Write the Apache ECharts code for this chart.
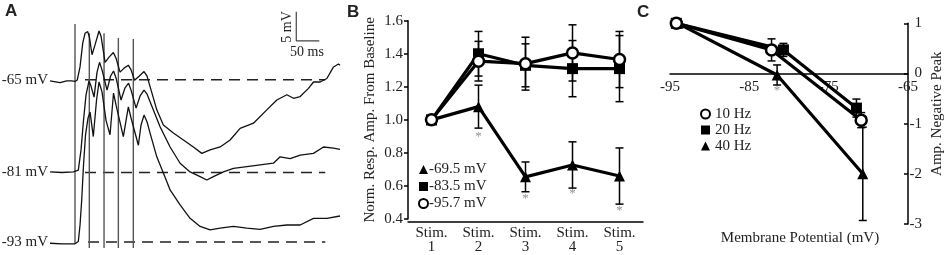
<!DOCTYPE html>
<html>
<head>
<meta charset="utf-8">
<script src="https://cdn.jsdelivr.net/npm/echarts@6/dist/echarts.min.js"></script>
<style>
  html, body { margin: 0; padding: 0; background: #fff; }
  #chart { width: 945px; height: 255px; }
</style>
</head>
<body>
<div id="chart"></div>
<script>
// ---- panel A: voltage traces, [time ms, membrane potential mV] ----
const traceM65 = [
  [0, -65.2], [21.7, -65.5], [36.3, -65.2], [47.2, -65.2], [54.3, -65.3], [59.3, -65.05],
  [65.2, -62.8], [71.1, -58.7], [76.1, -57.0], [82.0, -56.7], [85.9, -57.8], [91.3, -60.7],
  [97.8, -59.0], [106.5, -56.6], [110.9, -57.5], [119.6, -62.0], [128.3, -61.1], [137.6, -60.3],
  [143.5, -61.3], [152.2, -63.7], [160.9, -63.0], [170.2, -62.5], [176.1, -63.3], [183.7, -65.1],
  [193.5, -64.4], [204.3, -63.6], [210.9, -64.4], [217.4, -66.2], [232, -70.2], [246.3, -72.8],
  [268, -74.2], [289.8, -75.4], [311.5, -76.6], [329.8, -77.7], [347.8, -77.1], [369.6, -76.6],
  [391.3, -75.4], [413, -73.4], [442, -72.5], [471, -70.2], [492.8, -68.5], [514.6, -67.6],
  [528.9, -68.2], [543.5, -67.9], [561.5, -66.5], [572.4, -65.4], [587, -65.4], [601.5, -64.8],
  [615.9, -62.8], [626.7, -62.3], [630, -62.5]
];
const traceM81 = [
  [0, -80.9], [26.1, -81.0], [50.7, -80.9], [61.5, -80.6], [67.4, -77.1], [72.8, -72.0],
  [78.3, -67.6], [84.8, -65.2], [89.1, -66.1], [95.7, -68.0], [102.2, -63.7], [107.6, -62.0],
  [113, -63.3], [123.9, -66.8], [131.5, -64.4], [138, -63.5], [143.5, -64.7], [154.3, -68.5],
  [163, -66.4], [170.7, -65.6], [176.1, -66.8], [187, -69.9], [195.7, -67.8], [204.3, -66.8],
  [210.9, -67.5], [217.4, -68.8], [239.1, -73.1], [260.9, -76.6], [282.6, -79.4], [304.3, -80.9],
  [326.1, -81.7], [340.7, -82.3], [355, -81.7], [376.7, -80.9], [398.5, -80.3], [427.6, -80.0],
  [456.5, -79.7], [485.4, -79.4], [500, -78.3], [521.7, -78.6], [543.5, -78.0], [572.4, -77.7],
  [594.1, -76.6], [615.9, -76.8], [630, -77.0]
];
const traceM93 = [
  [0, -93.2], [26.1, -93.3], [54.3, -93.3], [61.5, -92.9], [65.2, -90.1], [68.9, -85.7],
  [72.8, -79.7], [77.2, -74.5], [82.6, -71.6], [87, -70.6], [94.1, -74.8], [101.1, -68.5],
  [106.5, -65.4], [113, -67.1], [121.7, -72.0], [130.4, -74.5], [138, -67.3], [143.5, -69.4],
  [159.3, -74.8], [170.2, -69.7], [176.1, -71.6], [192, -76.3], [197.8, -72.8], [204.3, -71.1],
  [210.9, -72.3], [217.4, -74.2], [232, -78.3], [246.3, -81.1], [260.9, -84.0], [282.6, -86.6],
  [304.3, -88.9], [326.1, -90.3], [347.8, -90.9], [369.6, -90.6], [398.5, -90.3], [427.6, -90.6],
  [456.5, -90.8], [485.4, -90.3], [514.6, -90.05], [543.5, -90.05], [572.4, -88.9], [601.5, -88.9],
  [630, -88.5]
];
const baselines = [-65, -81, -93];
const baselineStart = [76, 76, 82.6];
const baselineEnd = 598;
const stimTimes = [54.3, 85.4, 117.4, 148.5, 181];
const stimTop = [-55.4, -57.0, -57.0, -57.8, -58.0];
const stimBottom = [-93.3, -94.0, -94.0, -94.0, -94.0];
const scaleBar = [[535, -53.3], [535, -58.3], [585, -58.3]];

// ---- panel B: normalized response amplitude per stimulus ----
const stimLabels = ['Stim.\n1', 'Stim.\n2', 'Stim.\n3', 'Stim.\n4', 'Stim.\n5'];
const ampM695 = [1.0, 1.08, 0.655, 0.727, 0.66];
const errM695 = [0, 0.13, 0.09, 0.14, 0.17];
const ampM835 = [1.0, 1.40, 1.33, 1.31, 1.31];
const errM835 = [0, 0.135, 0.13, 0.17, 0.2];
const ampM957 = [1.0, 1.355, 1.34, 1.405, 1.365];
const errM957 = [0, 0.12, 0.16, 0.17, 0.17];
const starsB = [[1, 0.90], [2, 0.524], [3, 0.554], [4, 0.453]];

// ---- panel C: amplitude of negative peak vs membrane potential ----
const hz10 = [[-94.2, 1.0], [-82.2, 0.47], [-70.9, -0.93]];
const hz10Err = [0, 0.22, 0.15];
const hz20 = [[-94.2, 1.0], [-80.7, 0.47], [-71.5, -0.69]];
const hz20Err = [0, 0.13, 0.18];
const hz40 = [[-94.0, 1.0], [-81.5, -0.03], [-70.7, -2.0]];
const hz40Err = [0, 0.2, 0.93];
const starsC = [[-81.5, -0.35]];

const serif = 'Liberation Serif';
const txt = { fontFamily: serif, fontSize: 15, color: '#222' };
const blackAxis = { color: '#000', width: 1.5 };

const chart = echarts.init(document.getElementById('chart'));

// error bar drawn through the axis scales
function errorBar(params, api) {
  const x = api.value(0);
  const lo = api.value(2);
  const hi = api.value(3);
  if (hi - lo <= 0) return;
  const top = api.coord([x, hi]);
  const bot = api.coord([x, lo]);
  const w = 4;
  const st = { stroke: '#000', lineWidth: 1.5 };
  return {
    type: 'group',
    children: [
      { type: 'line', shape: { x1: top[0], y1: top[1], x2: bot[0], y2: bot[1] }, style: st },
      { type: 'line', shape: { x1: top[0] - w, y1: top[1], x2: top[0] + w, y2: top[1] }, style: st },
      { type: 'line', shape: { x1: bot[0] - w, y1: bot[1], x2: bot[0] + w, y2: bot[1] }, style: st }
    ]
  };
}

const errB = (vals, errs) => ({
  type: 'custom', xAxisIndex: 1, yAxisIndex: 1, z: 1, silent: true,
  renderItem: errorBar,
  encode: { x: 0, y: 1 },
  data: vals.map((v, i) => [i, v, v - errs[i], v + errs[i]])
});
const errC = (pts, errs) => ({
  type: 'custom', xAxisIndex: 2, yAxisIndex: 2, z: 1, silent: true,
  renderItem: errorBar,
  encode: { x: 0, y: 1 },
  data: pts.map((p, i) => [p[0], p[1], p[1] - errs[i], p[1] + errs[i]])
});
const lineSeries = (name, data, ax, symbol, open) => ({
  name, type: 'line', xAxisIndex: ax, yAxisIndex: ax, z: 3,
  data, symbol, symbolSize: 11,
  lineStyle: { color: '#000', width: 3.2 },
  itemStyle: open
    ? { color: '#fff', borderColor: '#000', borderWidth: 2.5 }
    : { color: '#000', borderColor: '#000', borderWidth: 0 },
  emphasis: { disabled: true }
});
const stars = (data, ax) => ({
  type: 'scatter', xAxisIndex: ax, yAxisIndex: ax, z: 4, silent: true,
  data, symbolSize: 1, itemStyle: { color: 'transparent' },
  label: { show: true, formatter: '*', position: 'inside', color: '#777', fontSize: 13, fontFamily: serif }
});

const series = [];
baselines.forEach((b, i) => {
  series.push({
    type: 'line', xAxisIndex: 0, yAxisIndex: 0, symbol: 'none', silent: true,
    data: [[baselineStart[i], b], [baselineEnd, b]],
    lineStyle: { color: '#222', width: 1.5, type: [11, 7] }
  });
});
stimTimes.forEach((t, i) => {
  series.push({
    type: 'line', xAxisIndex: 0, yAxisIndex: 0, symbol: 'none', silent: true,
    data: [[t, stimTop[i]], [t, stimBottom[i]]],
    lineStyle: { color: '#555', width: 1.4 }
  });
});
[traceM65, traceM81, traceM93].forEach(tr => {
  series.push({
    type: 'line', xAxisIndex: 0, yAxisIndex: 0, symbol: 'none', silent: true, z: 3,
    data: tr, lineStyle: { color: '#111', width: 1.3 }
  });
});
series.push({
  type: 'line', xAxisIndex: 0, yAxisIndex: 0, symbol: 'none', silent: true,
  data: scaleBar, lineStyle: { color: '#444', width: 1.2 }
});

series.push(errB(ampM695, errM695), errB(ampM835, errM835), errB(ampM957, errM957));
series.push(lineSeries('-69.5 mV', ampM695, 1, 'triangle', false));
series.push(lineSeries('-83.5 mV', ampM835, 1, 'rect', false));
series.push(lineSeries('-95.7 mV', ampM957, 1, 'circle', true));
series.push(stars(starsB, 1));

series.push(errC(hz40, hz40Err), errC(hz20, hz20Err), errC(hz10, hz10Err));
series.push(lineSeries('40 Hz', hz40, 2, 'triangle', false));
series.push(lineSeries('20 Hz', hz20, 2, 'rect', false));
series.push(lineSeries('10 Hz', hz10, 2, 'circle', true));
series.push(stars(starsC, 2));

const openIcon = { color: '#fff', borderColor: '#000', borderWidth: 2 };
const fillIcon = { color: '#000', borderWidth: 0 };

const option = {
  animation: false,
  backgroundColor: '#fff',
  grid: [
    { left: 50, top: 4.3, width: 290, height: 249.4, outerBoundsMode: 'none', containLabel: false },
    { left: 408, top: 20.7, width: 235, height: 198.3, outerBoundsMode: 'none', containLabel: false },
    { left: 670, top: 23.3, width: 238, height: 200.7, outerBoundsMode: 'none', containLabel: false }
  ],
  xAxis: [
    { gridIndex: 0, type: 'value', min: 0, max: 630, show: false },
    {
      gridIndex: 1, type: 'category', data: stimLabels, boundaryGap: true, offset: 3,
      axisLine: { lineStyle: blackAxis },
      axisTick: { alignWithLabel: true, length: 4, lineStyle: blackAxis },
      axisLabel: Object.assign({ margin: 4, lineHeight: 14, interval: 0 }, txt)
    },
    {
      // axis sits on the zero line of the right-hand y axis
      gridIndex: 2, type: 'value', min: -95, max: -65, interval: 10,
      position: 'bottom', offset: -150.5,
      axisLine: { onZero: false, lineStyle: blackAxis },
      axisTick: { show: false },
      splitLine: { show: false },
      axisLabel: Object.assign({ margin: 6 }, txt),
      name: 'Membrane Potential (mV)', nameLocation: 'middle', nameGap: 157,
      nameTextStyle: Object.assign({ padding: [0, 0, 0, 22] }, txt)
    }
  ],
  yAxis: [
    {
      gridIndex: 0, type: 'value', min: -95, max: -52,
      axisLine: { show: false }, axisTick: { show: false }, splitLine: { show: false },
      axisLabel: Object.assign({ customValues: baselines, formatter: v => v + ' mV', margin: 2 }, txt)
    },
    {
      gridIndex: 1, type: 'value', min: 0.4, max: 1.6, interval: 0.2,
      axisLine: { show: true, lineStyle: blackAxis },
      axisTick: { show: true, length: 4, lineStyle: blackAxis },
      splitLine: { show: false },
      axisLabel: Object.assign({ formatter: v => v.toFixed(1), margin: 5 }, txt),
      name: 'Norm. Resp. Amp. From Baseline', nameLocation: 'middle', nameGap: 30,
      nameTextStyle: txt
    },
    {
      gridIndex: 2, type: 'value', position: 'right', min: -3, max: 1, interval: 1,
      axisLine: { show: true, onZero: false, lineStyle: blackAxis },
      axisTick: { show: true, inside: true, length: 4, lineStyle: blackAxis },
      splitLine: { show: false },
      axisLabel: Object.assign({ align: 'right', margin: 14 }, txt),
      name: 'Amp. Negative Peak', nameLocation: 'middle', nameGap: 22,
      nameTextStyle: Object.assign({ padding: [0, 0, 0, 20] }, txt)
    }
  ],
  legend: [
    {
      orient: 'vertical', left: 413, top: 157, itemWidth: 9, itemHeight: 9, itemGap: 2,
      selectedMode: false,
      textStyle: Object.assign({ padding: [0, 0, 0, -4] }, txt),
      data: [
        { name: '-69.5 mV', icon: 'triangle', itemStyle: fillIcon },
        { name: '-83.5 mV', icon: 'rect', itemStyle: fillIcon },
        { name: '-95.7 mV', icon: 'circle', itemStyle: openIcon }
      ]
    },
    {
      orient: 'vertical', left: 695, top: 101.5, itemWidth: 9, itemHeight: 9, itemGap: 1,
      selectedMode: false,
      textStyle: txt,
      data: [
        { name: '10 Hz', icon: 'circle', itemStyle: openIcon },
        { name: '20 Hz', icon: 'rect', itemStyle: fillIcon },
        { name: '40 Hz', icon: 'triangle', itemStyle: fillIcon }
      ]
    }
  ],
  graphic: [
    { type: 'text', left: 5, top: 3, style: { text: 'A', font: 'bold 17px "Liberation Sans"', fill: '#222' } },
    { type: 'text', left: 347, top: 4, style: { text: 'B', font: 'bold 17px "Liberation Sans"', fill: '#222' } },
    { type: 'text', left: 637, top: 4, style: { text: 'C', font: 'bold 17px "Liberation Sans"', fill: '#222' } },
    { type: 'text', x: 287, y: 27, rotation: Math.PI / 2,
      style: { text: '5 mV', font: '14px "Liberation Serif"', fill: '#222', align: 'center', verticalAlign: 'middle' } },
    { type: 'text', x: 307, y: 52,
      style: { text: '50 ms', font: '14px "Liberation Serif"', fill: '#222', align: 'center', verticalAlign: 'middle' } }
  ],
  series
};

chart.setOption(option);
</script>
</body>
</html>
